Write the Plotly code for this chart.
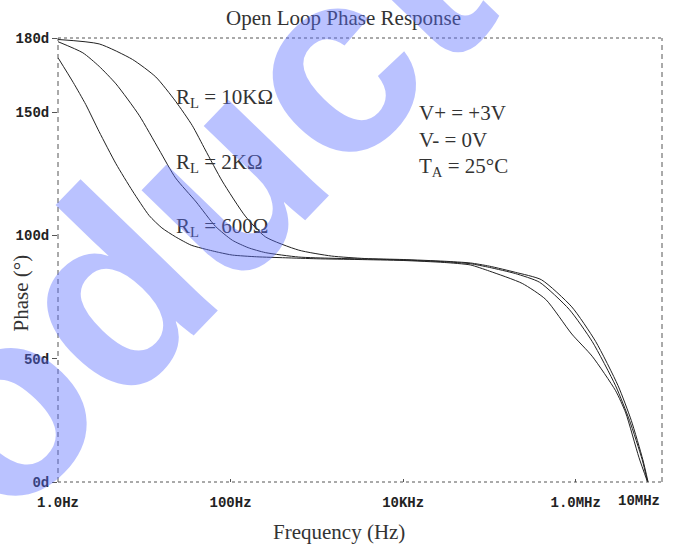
import math
import plotly.graph_objects as go

# ---------------- data ----------------
freq_600 = [1, 1.5, 2.1, 3.0, 4.7, 7.3, 11.4, 16, 23, 35, 51, 75, 105, 200, 430, 1000,
            3000, 10000, 30000, 60000, 100000, 240000, 450000, 900000, 1.55e6, 2.9e6,
            3.8e6, 5.4e6, 6.8e6]
phase_600 = [172, 162, 153, 142, 129, 118, 108, 103, 99.4, 96, 94.4, 93, 92, 91.3, 90.9,
             90.5, 90.2, 89.8, 89, 88, 85.5, 80.5, 74, 60, 51, 37, 28, 10, 0]

freq_2k = [1, 1.94, 3, 4.7, 8.7, 14.9, 23, 40, 67, 105, 160, 253, 616, 1500, 5000, 10000,
           30000, 60000, 100000, 200000, 380000, 840000, 1.55e6, 2.9e6, 4.2e6, 5.9e6, 6.8e6]
phase_2k = [178.5, 174, 168.5, 161.4, 148.7, 134.6, 123.3, 113.5, 103.6, 98, 95, 93, 91.2,
            90.7, 90.3, 90, 89.3, 88.5, 87, 84.5, 81, 70, 57, 39, 25, 9, 0]

freq_10k = [1, 3, 7.3, 13.6, 23, 36, 51, 80, 148, 253, 616, 1480, 3600, 10000, 30000,
            60000, 100000, 200000, 400000, 900000, 1.7e6, 3.1e6, 4.4e6, 6.0e6, 6.9e6]
phase_10k = [179.4, 177.6, 171.3, 164.2, 154.4, 144.5, 134.6, 122, 107.8, 99.4, 94, 91.6,
             90.6, 90.2, 89.5, 88.8, 87.5, 85, 82, 71, 57, 39, 25, 9, 0]

x_tickvals = [1, 100, 1e4, 1e6]
x_ticktext = ["1.0Hz", "100Hz", "10KHz", "1.0MHz"]
x_last_val = 1e7
x_last_text = "10MHz"
y_tickvals = [0, 50, 100, 150, 180]
y_ticktext = ["0d", "50d", "100d", "150d", "180d"]

curve_labels = ["R<sub>L</sub> = 10KΩ", "R<sub>L</sub> = 2KΩ", "R<sub>L</sub> = 600Ω"]
cond_labels = ["V+ = +3V", "V- = 0V", "T<sub>A</sub> = 25°C"]

title_text = "Open Loop Phase Response"
x_title = "Frequency (Hz)"
y_title = "Phase (°)"
watermark = "Product"

# ---------------- figure ----------------
serif = "Liberation Serif, Times New Roman, serif"
mono = "Liberation Mono, Courier New, monospace"
ink = "#222222"
txt = "#333333"

W, H = 674, 546
ML, MR, MT, MB = 58, 12, 38, 64
PW, PH = W - ML - MR, H - MT - MB


def px2paper(px, py):
    return (px - ML) / PW, (H - MB - py) / PH


fig = go.Figure()
for fx, py in [(freq_600, phase_600), (freq_2k, phase_2k), (freq_10k, phase_10k)]:
    fig.add_trace(go.Scatter(x=fx, y=py, mode="lines",
                             line=dict(color=ink, width=1, shape="spline", smoothing=0.6),
                             showlegend=False, hoverinfo="skip"))

tickfont = dict(family=mono, size=14, color=ink, weight="bold")
fig.update_layout(
    width=W, height=H,
    margin=dict(l=ML, r=MR, t=MT, b=MB, autoexpand=False),
    paper_bgcolor="white", plot_bgcolor="white",
    showlegend=False,
    xaxis=dict(type="log", range=[0, 7], showgrid=False, zeroline=False, showline=False,
               automargin=False,
               tickvals=x_tickvals, ticktext=x_ticktext, ticks="inside", ticklen=3,
               ticklabelstandoff=10,
               tickcolor="#555", tickfont=tickfont),
    yaxis=dict(range=[0, 180], showgrid=False, zeroline=False, showline=False,
               automargin=False,
               tickvals=y_tickvals, ticktext=y_ticktext, ticks="outside", ticklen=5,
               tickcolor="#555", tickfont=tickfont),
)

# dashed frame
frame = dict(color="#555555", width=1)
fig.add_shape(type="line", xref="x domain", yref="y domain", x0=0, x1=1, y0=1, y1=1,
              line=dict(dash="3px,3px", **frame))
fig.add_shape(type="line", xref="x domain", yref="y domain", x0=0, x1=1, y0=0, y1=0,
              line=dict(dash="3px,3px", **frame))
fig.add_shape(type="line", xref="x domain", yref="y domain", x0=0, x1=0, y0=0, y1=1,
              line=dict(dash="5px,4px", **frame))
fig.add_shape(type="line", xref="x domain", yref="y domain", x0=1, x1=1, y0=0, y1=1,
              line=dict(dash="5px,4px", **frame))

ann = []
ann.append(dict(text=x_last_text, x=7, xref="x", y=0, yref="y", xanchor="right",
                yanchor="middle", yshift=-18.5, showarrow=False, font=tickfont))
ann.append(dict(text=title_text, x=0.472, y=1.045, xref="paper", yref="paper",
                xanchor="center", yanchor="middle", showarrow=False,
                font=dict(family=serif, size=21, color=txt)))
ann.append(dict(text=x_title, x=0.465, y=-0.112, xref="paper", yref="paper",
                xanchor="center", yanchor="middle", showarrow=False,
                font=dict(family=serif, size=21, color=txt)))
ann.append(dict(text=y_title, x=-0.062, y=0.426, xref="paper", yref="paper",
                xanchor="center", yanchor="middle", showarrow=False,
                textangle=-90, font=dict(family=serif, size=21, color=txt)))
for t, yy in zip(curve_labels, [0.865, 0.718, 0.574]):
    ann.append(dict(text=t, x=0.192, y=yy, xref="paper", yref="paper", xanchor="left",
                    yanchor="middle", showarrow=False,
                    font=dict(family=serif, size=21, color=txt)))
for t, yy in zip(cond_labels, [0.831, 0.770, 0.709]):
    ann.append(dict(text=t, x=0.594, y=yy, xref="paper", yref="paper", xanchor="left",
                    yanchor="middle", showarrow=False,
                    font=dict(family=serif, size=21, color=txt)))

# watermark: letters laid out along a rising diagonal, drawn on top semi-transparently
wm_size = 262
wm_angle = 46.0
wm_adv = {"P": 0.667, "r": 0.389, "o": 0.611, "d": 0.611, "u": 0.611, "c": 0.556, "t": 0.333}
wm_ref_letter = 2            # the "o" is anchored here (pixel position of its x-height centre)
wm_ref_px = (15, 424)
rx, ry = math.cos(math.radians(wm_angle)), -math.sin(math.radians(wm_angle))
dx, dy = math.sin(math.radians(wm_angle)), math.cos(math.radians(wm_angle))
centers, acc = [], 0.0
for ch in watermark:
    centers.append(acc + wm_adv[ch] / 2)
    acc += wm_adv[ch]
for i, ch in enumerate(watermark):
    d = (centers[i] - centers[wm_ref_letter]) * wm_size
    cx = wm_ref_px[0] + d * rx - 0.09 * wm_size * dx
    cy = wm_ref_px[1] + d * ry - 0.09 * wm_size * dy
    pxp, pyp = px2paper(cx, cy)
    ann.append(dict(text="<b>" + ch + "</b>", x=pxp, y=pyp, xref="paper", yref="paper",
                    xanchor="center", yanchor="middle", showarrow=False,
                    textangle=-wm_angle,
                    font=dict(family="Liberation Sans, Arial, sans-serif", size=wm_size,
                              color="rgba(90,110,255,0.42)")))
fig.update_layout(annotations=ann)

fig.write_html("out.html", config={"displayModeBar": False},
               post_script="document.body.style.margin='0';document.body.style.overflow='hidden';")
